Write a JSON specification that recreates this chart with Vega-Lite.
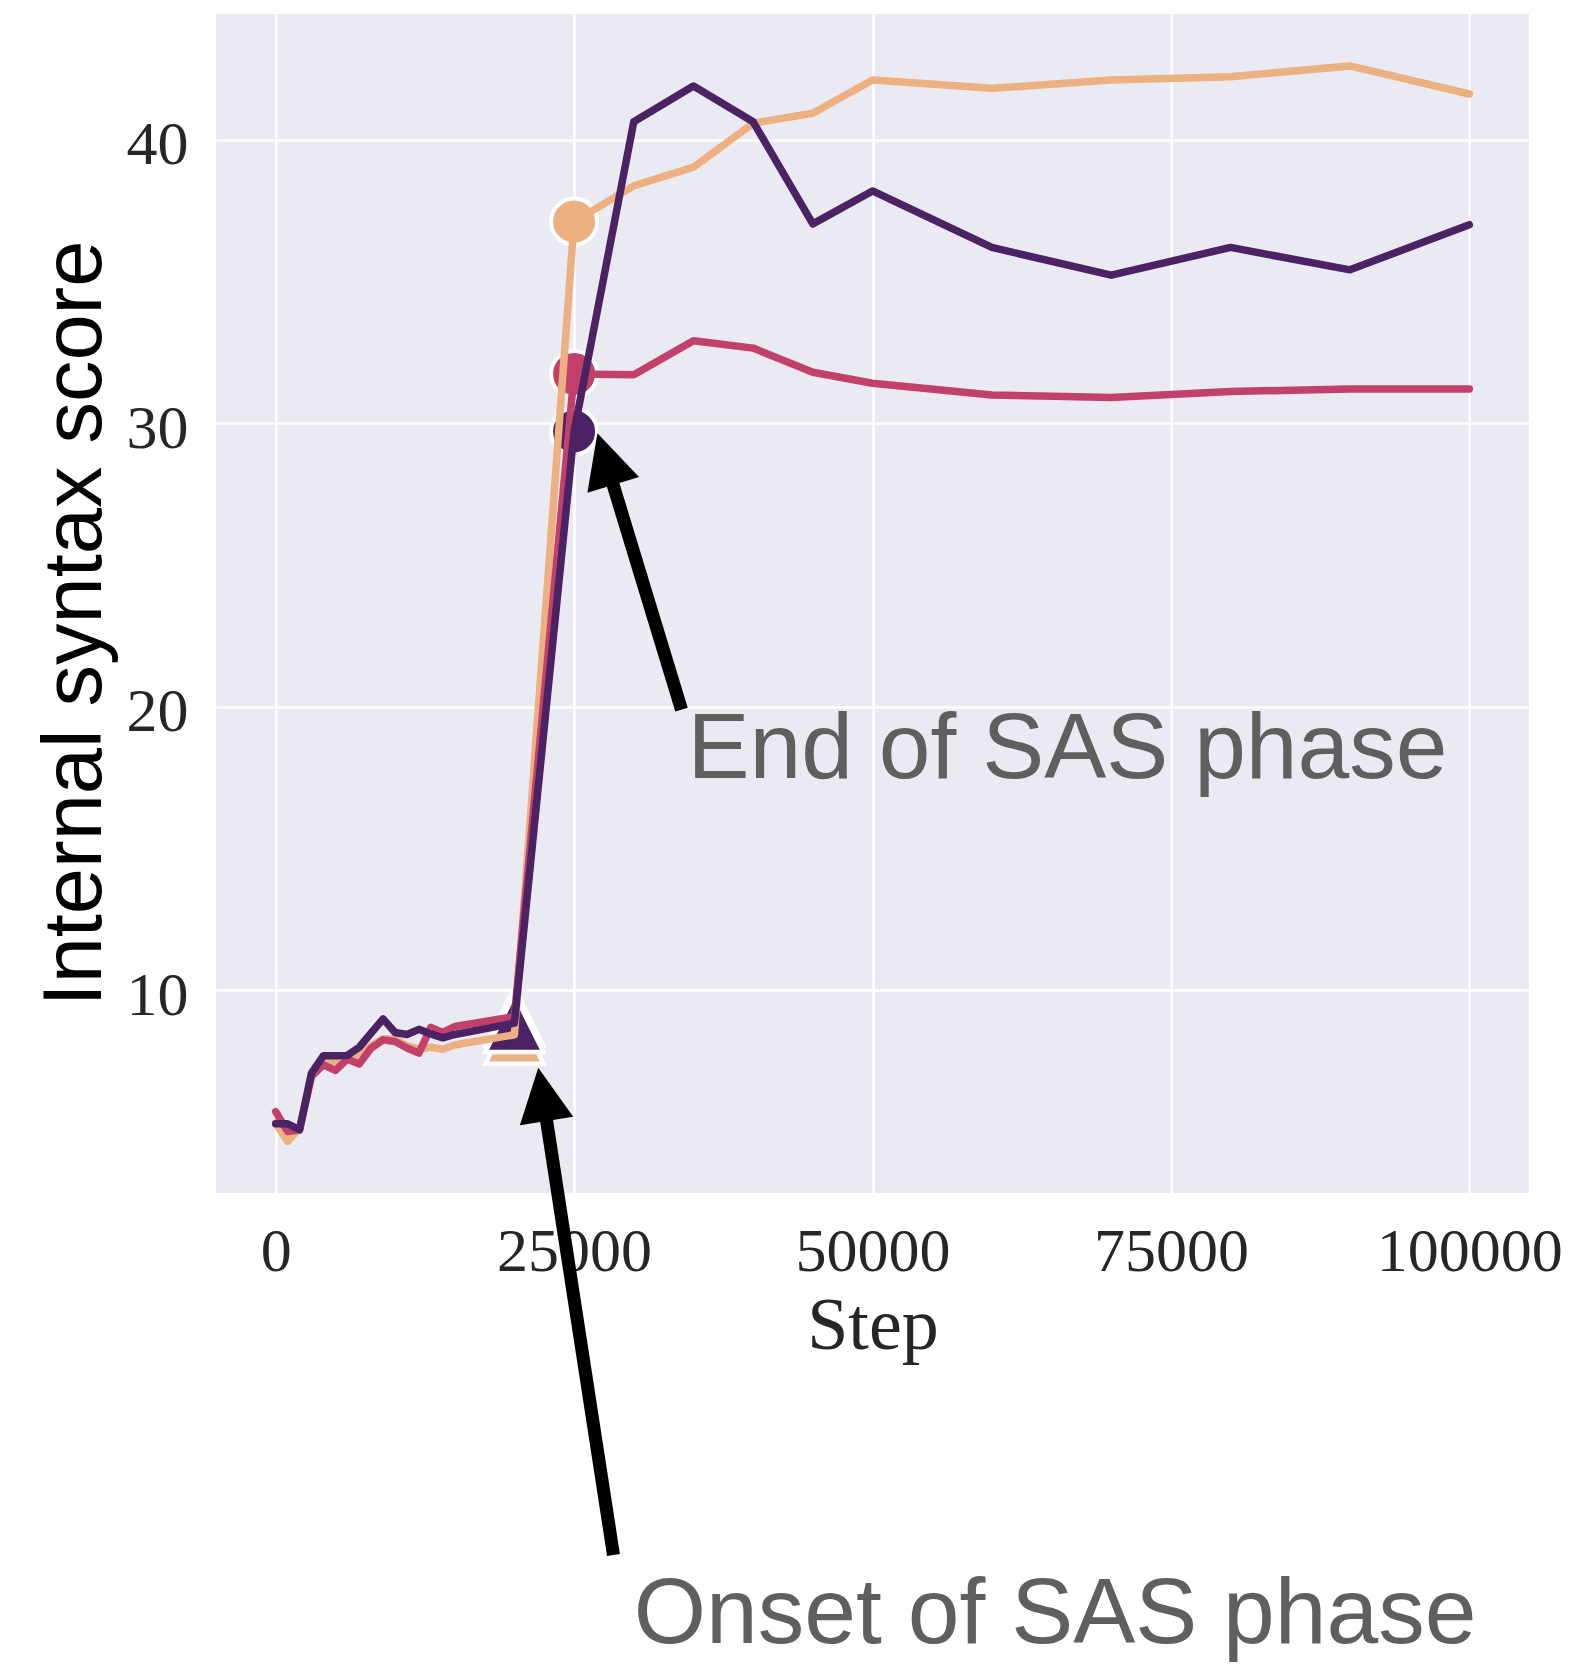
{
  "$schema": "https://vega.github.io/schema/vega-lite/v6.json",
  "width": 1313,
  "height": 1179,
  "autosize": {"type": "none"},
  "padding": {"left": 216, "top": 14, "right": 55, "bottom": 472},
  "background": "white",
  "config": {
    "view": {"fill": "#EAEAF2", "stroke": null}
  },
  "datasets": {
    "scores": [
      {"run": "a", "step": 0, "score": 5.33},
      {"run": "a", "step": 1000, "score": 4.68},
      {"run": "a", "step": 2000, "score": 5.15},
      {"run": "a", "step": 3000, "score": 7.03},
      {"run": "a", "step": 4000, "score": 7.45},
      {"run": "a", "step": 5000, "score": 7.5},
      {"run": "a", "step": 6000, "score": 7.55},
      {"run": "a", "step": 7000, "score": 7.75},
      {"run": "a", "step": 8000, "score": 8.05},
      {"run": "a", "step": 9000, "score": 8.3},
      {"run": "a", "step": 10000, "score": 8.28},
      {"run": "a", "step": 11000, "score": 8.05},
      {"run": "a", "step": 12000, "score": 7.93},
      {"run": "a", "step": 13000, "score": 8.0},
      {"run": "a", "step": 14000, "score": 7.93},
      {"run": "a", "step": 15000, "score": 8.08},
      {"run": "a", "step": 20000, "score": 8.44},
      {"run": "a", "step": 25000, "score": 37.11},
      {"run": "a", "step": 30000, "score": 38.37},
      {"run": "a", "step": 35000, "score": 39.03},
      {"run": "a", "step": 40000, "score": 40.58},
      {"run": "a", "step": 45000, "score": 40.93},
      {"run": "a", "step": 50000, "score": 42.1},
      {"run": "a", "step": 60000, "score": 41.81},
      {"run": "a", "step": 70000, "score": 42.1},
      {"run": "a", "step": 80000, "score": 42.22},
      {"run": "a", "step": 90000, "score": 42.6},
      {"run": "a", "step": 100000, "score": 41.61},
      {"run": "b", "step": 0, "score": 5.73},
      {"run": "b", "step": 1000, "score": 5.03},
      {"run": "b", "step": 2000, "score": 5.09},
      {"run": "b", "step": 3000, "score": 6.97},
      {"run": "b", "step": 4000, "score": 7.38},
      {"run": "b", "step": 5000, "score": 7.18},
      {"run": "b", "step": 6000, "score": 7.58},
      {"run": "b", "step": 7000, "score": 7.41},
      {"run": "b", "step": 8000, "score": 7.97},
      {"run": "b", "step": 9000, "score": 8.26},
      {"run": "b", "step": 10000, "score": 8.2},
      {"run": "b", "step": 11000, "score": 7.97},
      {"run": "b", "step": 12000, "score": 7.79},
      {"run": "b", "step": 13000, "score": 8.7},
      {"run": "b", "step": 14000, "score": 8.52},
      {"run": "b", "step": 15000, "score": 8.73},
      {"run": "b", "step": 20000, "score": 9.08},
      {"run": "b", "step": 25000, "score": 31.74},
      {"run": "b", "step": 30000, "score": 31.71},
      {"run": "b", "step": 35000, "score": 32.91},
      {"run": "b", "step": 40000, "score": 32.65},
      {"run": "b", "step": 45000, "score": 31.8},
      {"run": "b", "step": 50000, "score": 31.41},
      {"run": "b", "step": 60000, "score": 31.0},
      {"run": "b", "step": 70000, "score": 30.91},
      {"run": "b", "step": 80000, "score": 31.12},
      {"run": "b", "step": 90000, "score": 31.21},
      {"run": "b", "step": 100000, "score": 31.21},
      {"run": "c", "step": 0, "score": 5.3},
      {"run": "c", "step": 1000, "score": 5.3},
      {"run": "c", "step": 2000, "score": 5.09},
      {"run": "c", "step": 3000, "score": 7.09},
      {"run": "c", "step": 4000, "score": 7.7},
      {"run": "c", "step": 5000, "score": 7.7},
      {"run": "c", "step": 6000, "score": 7.71},
      {"run": "c", "step": 7000, "score": 8.0},
      {"run": "c", "step": 8000, "score": 8.5},
      {"run": "c", "step": 9000, "score": 9.0},
      {"run": "c", "step": 10000, "score": 8.52},
      {"run": "c", "step": 11000, "score": 8.45},
      {"run": "c", "step": 12000, "score": 8.63},
      {"run": "c", "step": 13000, "score": 8.47},
      {"run": "c", "step": 14000, "score": 8.33},
      {"run": "c", "step": 15000, "score": 8.45},
      {"run": "c", "step": 20000, "score": 8.85},
      {"run": "c", "step": 25000, "score": 29.71},
      {"run": "c", "step": 30000, "score": 40.63},
      {"run": "c", "step": 35000, "score": 41.89},
      {"run": "c", "step": 40000, "score": 40.63},
      {"run": "c", "step": 45000, "score": 37.03},
      {"run": "c", "step": 50000, "score": 38.19},
      {"run": "c", "step": 60000, "score": 36.2},
      {"run": "c", "step": 70000, "score": 35.22},
      {"run": "c", "step": 80000, "score": 36.2},
      {"run": "c", "step": 90000, "score": 35.41},
      {"run": "c", "step": 100000, "score": 37.0}
    ]
  },
  "encoding": {
    "x": {
      "field": "step",
      "type": "quantitative",
      "scale": {"domain": [-5000, 105000], "nice": false, "zero": false},
      "axis": {
        "title": "Step",
        "values": [0, 25000, 50000, 75000, 100000],
        "format": "d",
        "grid": true,
        "gridColor": "#FFFFFF",
        "gridWidth": 2.6,
        "domain": false,
        "ticks": false,
        "tickSize": 0,
        "labelFlush": false,
        "labelOverlap": false,
        "labelLimit": 0,
        "labelFont": "Liberation Serif",
        "labelFontSize": 62,
        "labelColor": "#262626",
        "labelBaseline": "alphabetic",
        "labelPadding": 77,
        "titleFont": "Liberation Serif",
        "titleFontSize": 74,
        "titleFontWeight": "normal",
        "titleColor": "#262626",
        "titleBaseline": "alphabetic",
        "titleY": 155
      }
    },
    "y": {
      "field": "score",
      "type": "quantitative",
      "scale": {"domain": [2.86, 44.43], "nice": false, "zero": false},
      "axis": {
        "title": "Internal syntax score",
        "values": [10, 20, 30, 40],
        "grid": true,
        "gridColor": "#FFFFFF",
        "gridWidth": 2.6,
        "domain": false,
        "ticks": false,
        "tickSize": 0,
        "labelFlush": false,
        "labelOverlap": false,
        "labelLimit": 0,
        "labelFont": "Liberation Serif",
        "labelFontSize": 62,
        "labelColor": "#262626",
        "labelBaseline": "alphabetic",
        "labelOffset": 24,
        "labelPadding": 28,
        "titleFont": "Liberation Sans",
        "titleFontSize": 83,
        "titleFontWeight": "normal",
        "titleColor": "#000000",
        "titleAngle": 270,
        "titleAlign": "center",
        "titleBaseline": "alphabetic",
        "titleX": -116,
        "titleY": 609
      }
    }
  },
  "layer": [
    {
      "data": {"name": "scores"},
      "transform": [{"filter": "datum.step === 20000"}],
      "mark": {"type": "point", "shape": "M0,-1L-1,1L1,1Z", "filled": true, "size": 3364, "opacity": 1, "stroke": "#FFFFFF", "strokeWidth": 4.5},
      "encoding": {
        "color": {"field": "run", "type": "nominal", "legend": null, "scale": {"domain": ["a", "b", "c"], "range": ["#EDB081", "#C1416A", "#4B2263"]}}
      }
    },
    {
      "data": {"name": "scores"},
      "transform": [{"filter": "datum.step === 25000"}],
      "mark": {"type": "point", "shape": "circle", "filled": true, "size": 2116, "opacity": 1, "stroke": "#FFFFFF", "strokeWidth": 4},
      "encoding": {
        "color": {"field": "run", "type": "nominal", "legend": null, "scale": {"domain": ["a", "b", "c"], "range": ["#EDB081", "#C1416A", "#4B2263"]}}
      }
    },
    {
      "data": {"name": "scores"},
      "mark": {"type": "line", "strokeWidth": 7.5, "strokeCap": "round", "strokeJoin": "round"},
      "encoding": {
        "color": {"field": "run", "type": "nominal", "legend": null, "scale": {"domain": ["a", "b", "c"], "range": ["#EDB081", "#C1416A", "#4B2263"]}}
      }
    },
    {
      "data": {"values": [
        {"step": 34000, "score": 19.9, "step2": 27686, "score2": 28.64},
        {"step": 28300, "score": -9.9, "step2": 22394, "score2": 6.24}
      ]},
      "mark": {"type": "rule", "color": "#000000", "strokeWidth": 13, "strokeCap": "butt"},
      "encoding": {
        "x2": {"field": "step2"},
        "y2": {"field": "score2"}
      }
    },
    {
      "data": {"values": [{"step": 26955, "score": 29.65}]},
      "mark": {"type": "point", "shape": "M0,0L-1,2L1,2Z", "filled": true, "size": 2916, "opacity": 1, "color": "#000000", "strokeWidth": 0, "angle": 343}
    },
    {
      "data": {"values": [{"step": 22000, "score": 7.28}]},
      "mark": {"type": "point", "shape": "M0,0L-1,2L1,2Z", "filled": true, "size": 2916, "opacity": 1, "color": "#000000", "strokeWidth": 0, "angle": 351.2}
    },
    {
      "data": {"values": [
        {"step": 34500, "score": 17.5, "label": "End of SAS phase"},
        {"step": 30000, "score": -13, "label": "Onset of SAS phase"}
      ]},
      "mark": {"type": "text", "align": "left", "baseline": "alphabetic", "font": "Liberation Sans", "fontSize": 93, "color": "#5F5F5F"},
      "encoding": {
        "text": {"field": "label"}
      }
    }
  ]
}
